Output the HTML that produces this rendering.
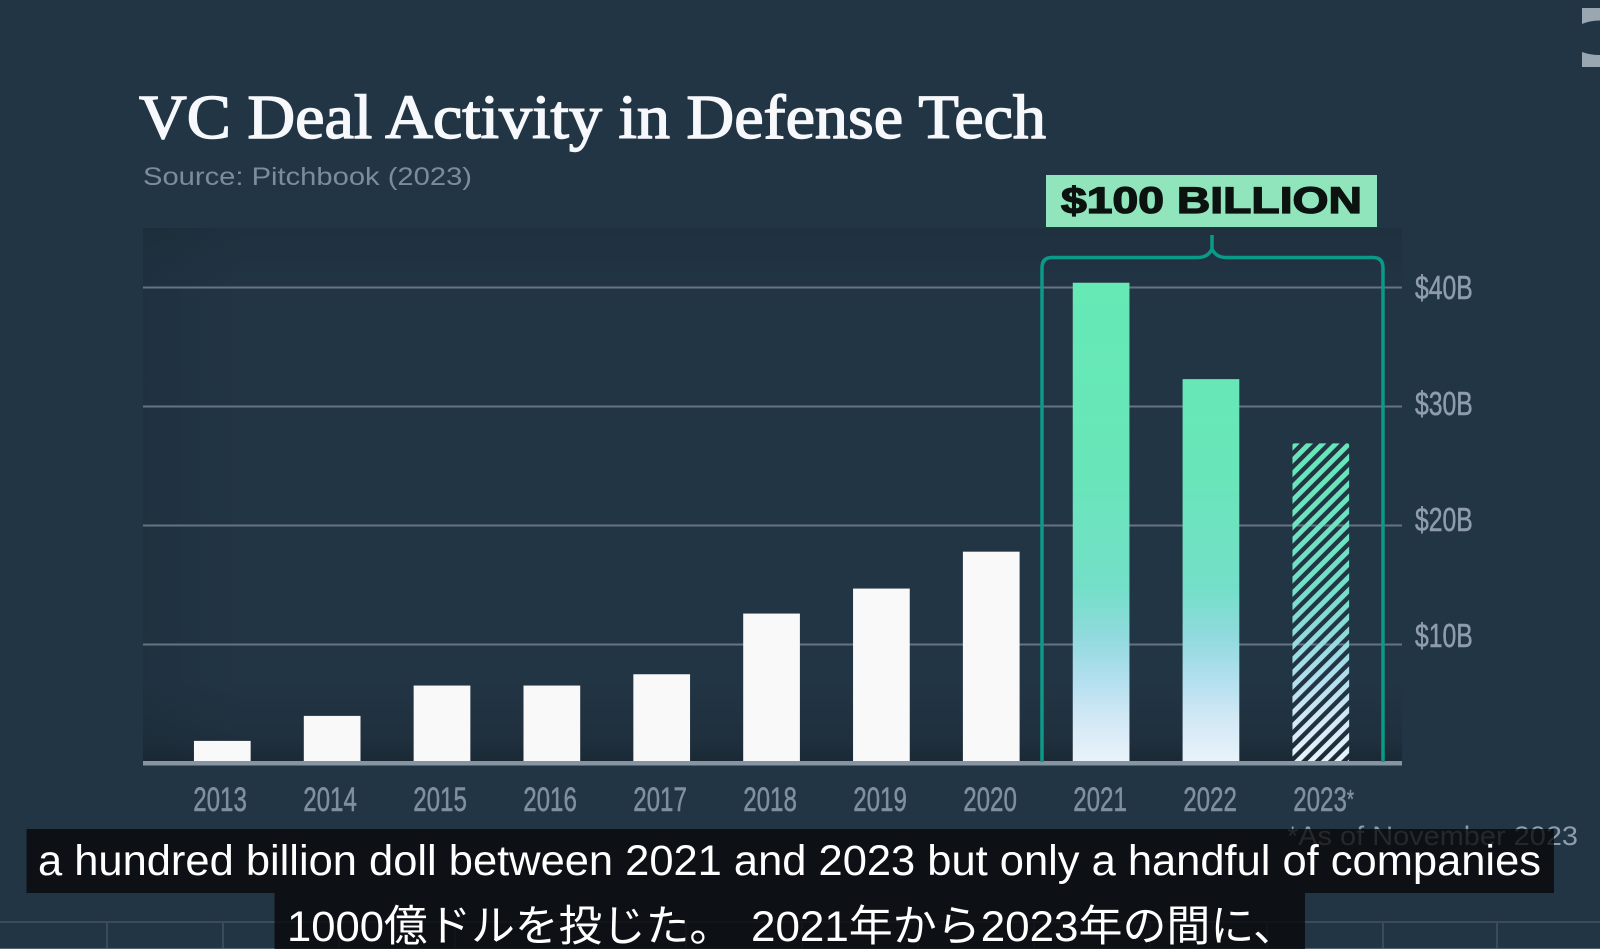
<!DOCTYPE html>
<html lang="en">
<head>
<meta charset="utf-8">
<title>VC Deal Activity in Defense Tech</title>
<style>
  html, body { margin: 0; padding: 0; width: 1600px; height: 949px; overflow: hidden; background: #223545; }
  svg { display: block; }
</style>
</head>
<body>
<svg id="chart" xmlns="http://www.w3.org/2000/svg" width="1600" height="949" viewBox="0 0 1600 949">
  <defs>
    <linearGradient id="plotV" x1="0" y1="0" x2="0" y2="1">
      <stop offset="0" stop-color="#1f303e"/>
      <stop offset="0.12" stop-color="#223545"/>
      <stop offset="0.85" stop-color="#223544"/>
      <stop offset="0.96" stop-color="#1f2f3d"/>
      <stop offset="1" stop-color="#1a2834"/>
    </linearGradient>
    <linearGradient id="plotL" x1="0" y1="0" x2="1" y2="0">
      <stop offset="0" stop-color="#14242f" stop-opacity="0.22"/>
      <stop offset="0.08" stop-color="#14242f" stop-opacity="0"/>
    </linearGradient>
    <linearGradient id="barGrad" gradientUnits="userSpaceOnUse" x1="0" y1="282" x2="0" y2="761">
      <stop offset="0" stop-color="#66e9b5"/>
      <stop offset="0.39" stop-color="#68e6b9"/>
      <stop offset="0.64" stop-color="#74dfc8"/>
      <stop offset="0.74" stop-color="#90dadd"/>
      <stop offset="0.83" stop-color="#b2dfef"/>
      <stop offset="0.91" stop-color="#d2e8f5"/>
      <stop offset="1" stop-color="#e8f3fa"/>
    </linearGradient>
    <pattern id="hatchPattern" patternUnits="userSpaceOnUse" width="9.4" height="9.4" patternTransform="rotate(-45 1320 600)">
      <rect x="0" y="0" width="9.4" height="5" fill="#fff"/>
    </pattern>
    <mask id="hatchMask" maskUnits="userSpaceOnUse" x="1200" y="300" width="300" height="500">
      <rect x="1200" y="300" width="300" height="500" fill="url(#hatchPattern)"/>
    </mask>
  </defs>

  <rect x="0" y="0" width="1600" height="949" fill="#223545"/>

  <g fill="#9aa7b1">
    <path d="M1582,8 H1600 V20.5 Q1590,20.5 1582,24 Z"/>
    <path d="M1582,67 H1600 V55 Q1590,55 1582,52 Z"/>
  </g>

  <text x="139" y="138" font-family="'Liberation Serif', serif" font-size="62" fill="#f6f8fb" stroke="#f6f8fb" stroke-width="1.4" textLength="907" lengthAdjust="spacingAndGlyphs">VC Deal Activity in Defense Tech</text>
  <text x="143" y="185" font-family="'Liberation Sans', sans-serif" font-size="25" fill="#7c8c99" textLength="329" lengthAdjust="spacingAndGlyphs">Source: Pitchbook (2023)</text>

  <rect x="143" y="228" width="1259" height="535" fill="url(#plotV)"/>
  <rect x="143" y="228" width="1259" height="535" fill="url(#plotL)"/>

  <g id="gridLayer"></g>
  <g id="barLayer"></g>
  <rect x="143" y="761" width="1259" height="4.5" fill="#8794a1"/>

  <path fill="none" stroke="#0a9a88" stroke-width="3.5" d="M1042,762 V268 Q1042,257.5 1052,257.5 H1198 Q1208,257.5 1212,249 V235 M1212,249 Q1216,257.5 1226,257.5 H1373 Q1383,257.5 1383,268 V762"/>

  <rect x="1046" y="175" width="331" height="52" fill="#91e5bc"/>
  <text x="1061" y="213" font-family="'Liberation Sans', sans-serif" font-weight="700" font-size="37" fill="#0c120f" stroke="#0c120f" stroke-width="1.3" textLength="301" lengthAdjust="spacingAndGlyphs">$100 BILLION</text>

  <g id="yTickLayer"></g>
  <g id="xTickLayer"></g>

  <text x="1287" y="845" font-family="'Liberation Sans', sans-serif" font-size="27" fill="#8d9dab" textLength="291" lengthAdjust="spacingAndGlyphs">*As of November 2023</text>

  <g stroke="#3a4c5a" stroke-width="2" fill="none">
    <path d="M0,922 H1600"/>
    <path d="M107,922 V949 M223,922 V949 M339,922 V949 M455,922 V949 M570,922 V949 M686,922 V949 M802,922 V949 M918,922 V949 M1034,922 V949 M1150,922 V949 M1267,922 V949 M1383,922 V949 M1497,922 V949"/>
    <path d="M0,948.5 H1600" stroke="#55646f" stroke-width="1"/>
  </g>

  <rect x="26.5" y="829" width="1527.5" height="64" fill="#080808" fill-opacity="0.78"/>
  <rect x="274.5" y="893" width="1030.5" height="56" fill="#080808" fill-opacity="0.78"/>
  <text x="38" y="875" font-family="'Liberation Sans', sans-serif" font-size="43" fill="#ffffff" textLength="1503" lengthAdjust="spacingAndGlyphs">a hundred billion doll between 2021 and 2023 but only a handful of companies</text>
  <text x="287" y="941" font-family="'Liberation Sans', 'Noto Sans CJK JP', sans-serif" font-size="43" fill="#ffffff" textLength="446" lengthAdjust="spacingAndGlyphs">1000億ドルを投じた。</text>
  <text x="751" y="941" font-family="'Liberation Sans', 'Noto Sans CJK JP', sans-serif" font-size="43" fill="#ffffff" textLength="546" lengthAdjust="spacingAndGlyphs">2021年から2023年の間に、</text>
</svg>

<script>
const categories = ['2013', '2014', '2015', '2016', '2017', '2018', '2019', '2020', '2021', '2022', '2023*'];
const dealValues = [1.9, 4.0, 6.55, 6.55, 7.5, 12.6, 14.7, 17.8, 40.4, 32.3, 26.9];
const highlightedCategories = ['2021', '2022'];
const hatchedCategories = ['2023*'];
const yTickValues = [10, 20, 30, 40];
const yTickLabels = ['$10B', '$20B', '$30B', '$40B'];

const NS = 'http://www.w3.org/2000/svg';
const gridLayer = document.getElementById('gridLayer');
const barLayer = document.getElementById('barLayer');
const yTickLayer = document.getElementById('yTickLayer');
const xTickLayer = document.getElementById('xTickLayer');

const BAR_WIDTH = 56.7;
const BAR_BOTTOM = 761.5;
function xScale(i) { return 222.3 + i * 109.85; }
function xLabelCenter(i) { return 220 + i * 110; }
function yScale(v) { return 763.5 - v * 11.9; }
function yLabelCenter(v) { return 635 - (v - 10) * 11.6; }

function make(tag, attrs, text) {
  const node = document.createElementNS(NS, tag);
  for (const key in attrs) node.setAttribute(key, attrs[key]);
  if (text !== undefined) node.textContent = text;
  return node;
}

yTickValues.forEach(function (v) {
  const line = make('rect', { x: 143, y: yScale(v) - 1, width: 1259, height: 2, fill: '#667481' });
  
  
  gridLayer.appendChild(line);
});

categories.forEach(function (cat, i) {
  const left = xScale(i) - BAR_WIDTH / 2;
  const top = yScale(dealValues[i]);
  const isHatched = hatchedCategories.indexOf(cat) >= 0;
  const isHighlighted = highlightedCategories.indexOf(cat) >= 0;
  const attrs = { x: left, y: top, width: BAR_WIDTH, height: BAR_BOTTOM - top };
  if (isHatched) {
    attrs.fill = 'url(#barGrad)';
    attrs.mask = 'url(#hatchMask)';
    attrs.rx = 2;
  } else if (isHighlighted) {
    attrs.fill = 'url(#barGrad)';
  } else {
    attrs.fill = '#f9f9fa';
  }
  const bar = make('rect', attrs);
  
  
  barLayer.appendChild(bar);
});

yTickValues.forEach(function (v, i) {
  const label = make('text', {
    transform: 'translate(1415,' + (yLabelCenter(v) + 12) + ') scale(0.75,1)',
    'font-family': "'Liberation Sans', sans-serif",
    'font-size': 33,
    fill: '#8d9dac',
    stroke: '#8d9dac',
    'stroke-width': 0.5
  }, yTickLabels[i]);
  
  
  yTickLayer.appendChild(label);
});

categories.forEach(function (cat, i) {
  const starred = cat.slice(-1) === '*';
  const label = make('text', {
    transform: 'translate(' + (xLabelCenter(i) - 26.8) + ',811) scale(0.71,1)',
    'font-family': "'Liberation Sans', sans-serif",
    'font-size': 34,
    fill: '#7f909f',
    stroke: '#7f909f',
    'stroke-width': 0.5
  }, starred ? cat.slice(0, -1) : cat);
  if (starred) {
    const star = make('tspan', { 'font-size': 26, dy: -3 }, '*');
    label.appendChild(star);
  }
  
  
  xTickLayer.appendChild(label);
});
</script>
</body>
</html>
